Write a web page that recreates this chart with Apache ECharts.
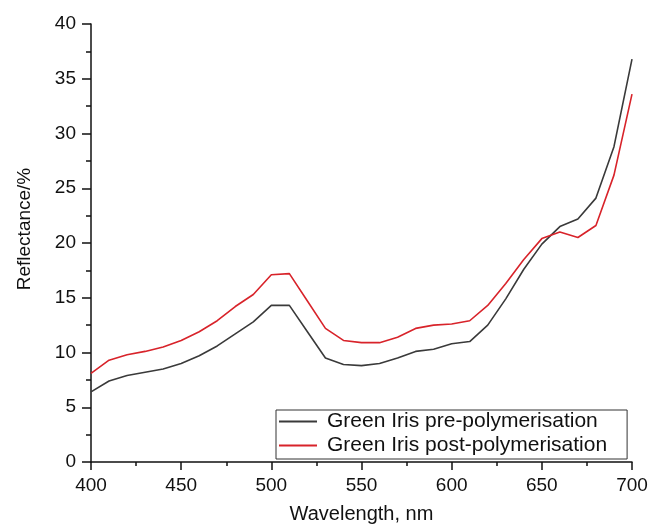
<!DOCTYPE html>
<html>
<head>
<meta charset="utf-8">
<script src="https://cdn.jsdelivr.net/npm/echarts@6/dist/echarts.min.js"></script>
<style>
  html, body { margin: 0; padding: 0; background: #fff; }
  #main { width: 649px; height: 528px; }
</style>
</head>
<body>
<div id="main"></div>
<script>
// wavelength in nm, reflectance in %
var wavelengths = [400, 410, 420, 430, 440, 450, 460, 470, 480, 490,
                   500, 510, 520, 530, 540, 550, 560, 570, 580, 590,
                   600, 610, 620, 630, 640, 650, 660, 670, 680, 690, 700];
var preValues  = [6.4, 7.4, 7.9, 8.2, 8.5, 9.0, 9.7, 10.6, 11.7, 12.8,
                  14.3, 14.3, 11.9, 9.5, 8.9, 8.8, 9.0, 9.5, 10.1, 10.3,
                  10.8, 11.0, 12.5, 14.9, 17.6, 19.9, 21.5, 22.2, 24.1, 28.8, 36.8];
var postValues = [8.1, 9.3, 9.8, 10.1, 10.5, 11.1, 11.9, 12.9, 14.2, 15.3,
                  17.1, 17.2, 14.7, 12.2, 11.1, 10.9, 10.9, 11.4, 12.2, 12.5,
                  12.6, 12.9, 14.3, 16.3, 18.5, 20.4, 21.0, 20.5, 21.6, 26.2, 33.6];
var seriesNames = ['Green Iris pre-polymerisation', 'Green Iris post-polymerisation'];

function pairs(xs, ys) {
  return xs.map(function (x, i) { return [x, ys[i]]; });
}

var FONT = 'Liberation Sans';
var axisColor = '#111';

var myChart = echarts.init(document.getElementById('main'), null, { renderer: 'canvas' });

var option = {
  backgroundColor: '#fff',
  animation: false,
  grid: { left: 91, right: 17, top: 24, bottom: 66, outerBoundsMode: 'none' },
  legend: {
    orient: 'vertical',
    left: 276,
    top: 410,
    padding: [1, 20, 3, 3],
    icon: 'rect',
    itemWidth: 38,
    itemHeight: 2,
    itemGap: 3,
    borderColor: '#333',
    borderWidth: 1,
    backgroundColor: '#fff',
    textStyle: { fontFamily: FONT, fontSize: 21, color: '#111', lineHeight: 21, padding: [0, 0, 0, 5] },
    data: seriesNames
  },
  xAxis: {
    type: 'value',
    min: 400,
    max: 700,
    interval: 50,
    name: 'Wavelength, nm',
    nameLocation: 'middle',
    nameGap: 42,
    nameTextStyle: { fontFamily: FONT, fontSize: 20, color: axisColor },
    axisLine: { show: true, lineStyle: { color: axisColor, width: 1.5 } },
    axisTick: { show: true, length: 8, lineStyle: { color: axisColor, width: 1.5 } },
    minorTick: { show: true, splitNumber: 2, length: 4, lineStyle: { color: axisColor, width: 1.5 } },
    axisLabel: { fontFamily: FONT, fontSize: 19, color: axisColor, margin: 14 },
    splitLine: { show: false }
  },
  yAxis: {
    type: 'value',
    min: 0,
    max: 40,
    interval: 5,
    name: 'Reflectance/%',
    nameLocation: 'middle',
    nameGap: 57,
    nameTextStyle: { fontFamily: FONT, fontSize: 19, color: axisColor, padding: [0, 0, 0, 28] },
    axisLine: { show: true, lineStyle: { color: axisColor, width: 1.5 } },
    axisTick: { show: true, length: 9, lineStyle: { color: axisColor, width: 1.5 } },
    minorTick: { show: true, splitNumber: 2, length: 5, lineStyle: { color: axisColor, width: 1.5 } },
    axisLabel: { fontFamily: FONT, fontSize: 19, color: axisColor, margin: 15 },
    splitLine: { show: false }
  },
  series: [
    {
      name: seriesNames[0],
      type: 'line',
      symbol: 'none',
      color: '#3a3a3a',
      lineStyle: { color: '#3a3a3a', width: 1.6 },
      data: pairs(wavelengths, preValues)
    },
    {
      name: seriesNames[1],
      type: 'line',
      symbol: 'none',
      color: '#d8232a',
      lineStyle: { color: '#d8232a', width: 1.6 },
      data: pairs(wavelengths, postValues)
    }
  ]
};

myChart.setOption(option);
window.onresize = myChart.resize;
</script>
</body>
</html>
